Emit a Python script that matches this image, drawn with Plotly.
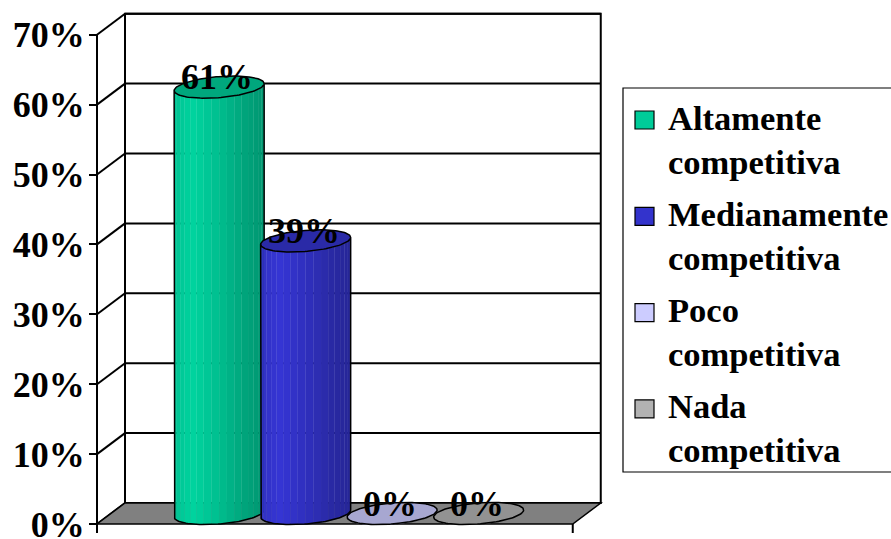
import numpy as np
import plotly.graph_objects as go

# ---- data ----
categories = ["Altamente competitiva", "Medianamente competitiva",
              "Poco competitiva", "Nada competitiva"]
values = [0.61, 0.39, 0.0, 0.0]
colors = ["#00CC99", "#3333CC", "#CCCCFF", "#B2B2B2"]
tick_values = [0.0, 0.1, 0.2, 0.3, 0.4, 0.5, 0.6, 0.7]

# ---- page / frame geometry (pixels) ----
W, H = 891, 539
PLOT_L, PLOT_R, PLOT_T, PLOT_B = 84, 612, 6, 539
ORIGIN_X, ORIGIN_Y = 97, 524          # pixel of x=0 / value=0 on the front plane
PX_PER_X, PX_PER_Y = 86.5, 699.0      # pixels per category unit / per 100 %

x_range = [(PLOT_L - ORIGIN_X) / PX_PER_X, (PLOT_R - ORIGIN_X) / PX_PER_X]
y_range = [(ORIGIN_Y - PLOT_B) / PX_PER_Y, (ORIGIN_Y - PLOT_T) / PX_PER_Y]

# oblique depth offset of the back wall (in axis units)
DX = 28 / PX_PER_X
DY = 21 / PX_PER_Y
FLOOR_W = 5.5                      # width of the floor on the front plane
Y_MAX = 0.7

# cylinder geometry
FIRST_X, STEP = 1.25, 1.0
A = 45 / PX_PER_X                  # horizontal semi-axis
B = 10.5 / PX_PER_Y                # vertical semi-axis of the end caps
K = 3.5 / PX_PER_Y                 # slight tilt of the end caps
N_STRIPS = 18

FONT = "Liberation Serif, Times New Roman, serif"
FS_AXIS = 36
FS_LABEL = 36
FS_LEGEND = 34.5


def shade(hex_color, f):
    h = hex_color.lstrip("#")
    rgb = [int(h[i:i + 2], 16) for i in (0, 2, 4)]
    rgb = [max(0, min(255, int(round(c * f)))) for c in rgb]
    return "#%02X%02X%02X" % tuple(rgb)


def ellipse(xc, yc, t):
    return xc + A * np.cos(t), yc + B * np.sin(t) + K * np.cos(t)


def px_x(p):
    return (p - PLOT_L) / (PLOT_R - PLOT_L)


def px_y(p):
    return (PLOT_B - p) / (PLOT_B - PLOT_T)


fig = go.Figure()
shapes = []

# ---- walls and floor ----
line_k = dict(color="black", width=2)
# back wall
shapes.append(dict(type="rect", xref="x", yref="y", x0=DX, y0=DY,
                   x1=FLOOR_W + DX, y1=Y_MAX + DY, line=line_k,
                   fillcolor="white", layer="below"))
# back-wall gridlines and side-wall diagonals
for v in tick_values:
    if v > 0:
        shapes.append(dict(type="line", xref="x", yref="y", x0=DX, y0=v + DY,
                           x1=FLOOR_W + DX, y1=v + DY, line=line_k, layer="below"))
    shapes.append(dict(type="line", xref="x", yref="y", x0=0, y0=v,
                       x1=DX, y1=v + DY, line=line_k, layer="below"))
# floor
floor_path = "M 0,0 L %f,0 L %f,%f L %f,%f Z" % (FLOOR_W, FLOOR_W + DX, DY, DX, DY)
shapes.append(dict(type="path", xref="x", yref="y", path=floor_path,
                   fillcolor="#808080", line=dict(color="black", width=1.5),
                   layer="below"))
# front value axis line and category-axis ticks
shapes.append(dict(type="line", xref="x", yref="y", x0=0, y0=0, x1=0, y1=Y_MAX,
                   line=line_k, layer="below"))
for xt in (0, FLOOR_W):
    shapes.append(dict(type="line", xref="x", yref="y", x0=xt, y0=0, x1=xt,
                       y1=-9 / PX_PER_Y, line=line_k, layer="below"))

# ---- cylinders ----
u_pts = [0.0, 0.2, 0.5, 0.8, 1.0]
f_pts = [0.95, 1.04, 0.93, 0.80, 0.74]
annotations = []
for i, (name, v, col) in enumerate(zip(categories, values, colors)):
    xc = FIRST_X + i * STEP + DX / 2
    yb = DY / 2
    yt = v + DY / 2
    ts = np.linspace(np.pi, 2 * np.pi, N_STRIPS + 1)
    for j in range(N_STRIPS):
        tt = np.linspace(ts[j], ts[j + 1], 6)
        xb_, yb_ = ellipse(xc, yb, tt)
        xt_, yt_ = ellipse(xc, yt, tt[::-1])
        u = (np.cos((ts[j] + ts[j + 1]) / 2) + 1) / 2
        c = shade(col, float(np.interp(u, u_pts, f_pts)))
        fig.add_trace(go.Scatter(
            x=np.concatenate([xb_, xt_]), y=np.concatenate([yb_, yt_]),
            mode="lines", fill="toself", fillcolor=c,
            line=dict(width=0.6, color=c), hoverinfo="skip", showlegend=False))
    # top cap
    tc = np.linspace(0, 2 * np.pi, 120)
    xe, ye = ellipse(xc, yt, tc)
    fig.add_trace(go.Scatter(x=xe, y=ye, mode="lines", fill="toself",
                             fillcolor=shade(col, 0.82), line=dict(width=0),
                             hoverinfo="skip", showlegend=False))
    # silhouette outline
    tb = np.linspace(np.pi, 2 * np.pi, 60)
    xbo, ybo = ellipse(xc, yb, tb)
    xl, yl = ellipse(xc, yt, np.array([np.pi]))
    xo = np.concatenate([xl, xbo, xe])
    yo = np.concatenate([yl, ybo, ye])
    fig.add_trace(go.Scatter(x=xo, y=yo, mode="lines",
                             line=dict(color="black", width=1.5),
                             hoverinfo="skip", showlegend=False))
    # value label
    annotations.append(dict(x=xc, y=yt, xref="x", yref="y",
                            text="%d%%" % round(v * 100), showarrow=False,
                            xshift=-2, yshift=10,
                            font=dict(family=FONT, size=FS_LABEL, color="black",
                                      weight="bold")))

# ---- legend ----
LEG_L, LEG_T, LEG_B = 623, 88, 472
shapes.append(dict(type="rect", xref="paper", yref="paper",
                   x0=px_x(LEG_L), y0=px_y(LEG_B), x1=px_x(W + 10), y1=px_y(LEG_T),
                   line=dict(color="black", width=1.2), fillcolor="white"))
for i, (name, col) in enumerate(zip(categories, colors)):
    base1 = 129 + i * 96.3
    shapes.append(dict(type="rect", xref="paper", yref="paper",
                       x0=px_x(635), x1=px_x(654), y0=px_y(base1), y1=px_y(base1 - 18),
                       line=dict(color="black", width=1.2), fillcolor=col))
    words = name.split(" ")
    for k, line_text in enumerate(words):
        bl = base1 + k * 44
        annotations.append(dict(x=px_x(666), y=px_y(bl - 11.5), xref="paper",
                                yref="paper", xanchor="left", yanchor="middle",
                                text=line_text, showarrow=False,
                                font=dict(family=FONT, size=FS_LEGEND, color="black",
                                          weight="bold")))

fig.update_layout(
    width=W, height=H,
    margin=dict(l=PLOT_L, r=W - PLOT_R, t=PLOT_T, b=H - PLOT_B, pad=0,
                autoexpand=False),
    paper_bgcolor="white", plot_bgcolor="white",
    shapes=shapes, annotations=annotations, showlegend=False,
    xaxis=dict(range=x_range, visible=False, fixedrange=True, automargin=False),
    yaxis=dict(range=y_range, anchor="free", position=px_x(ORIGIN_X),
               tickvals=tick_values, tickformat=".0%", ticks="outside",
               ticklen=8, tickwidth=2, tickcolor="black",
               showgrid=False, zeroline=False, showline=False,
               ticklabelstandoff=-3, ticklabeloverflow="allow", automargin=False,
               tickfont=dict(family=FONT, size=FS_AXIS, color="black", weight="bold"),
               fixedrange=True),
)

fig.write_html("out.html", config={"displayModeBar": False})
